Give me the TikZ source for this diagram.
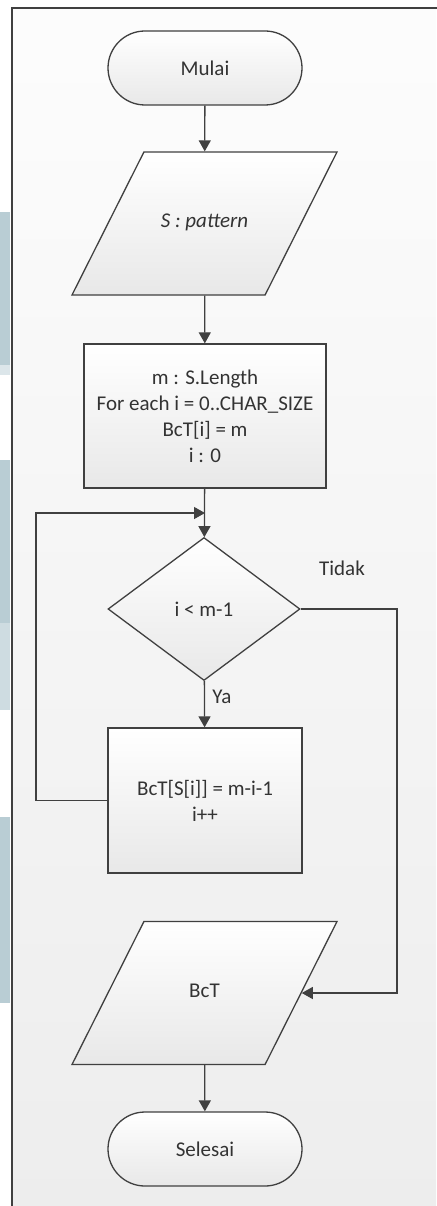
\documentclass[tikz,border=0pt]{standalone}
\usepackage{fontspec}
\setmainfont{Carlito}
\usetikzlibrary{shapes.geometric,shapes.misc,arrows.meta}
\definecolor{stripblue}{RGB}{185,205,212}
\definecolor{linegray}{RGB}{64,64,64}

\begin{document}
\begin{tikzpicture}[x=1pt,y=-1pt,
    font=\fontsize{21}{26}\selectfont, text=black!80,
    shape fill/.style={draw=linegray, line width=1.3pt, top color=white, bottom color=black!9},
    term/.style={shape fill, rounded rectangle, minimum width=194pt, minimum height=74pt, inner sep=0pt},
    io/.style={shape fill, trapezium, trapezium left angle=63.3, trapezium right angle=116.7,
        trapezium stretches body, text height=14pt, text depth=5pt, inner xsep=0pt, inner ysep=62pt,
        minimum width=265pt},
    proc/.style={shape fill, rectangle, align=center, inner sep=0pt},
    cond/.style={shape fill, diamond, minimum width=192pt, minimum height=143pt, inner sep=0pt},
    flow/.style={draw=linegray, line width=1.3pt, -{Triangle[length=11pt,width=12pt]}}]
    \useasboundingbox (0,0) rectangle (436,1206);

    \fill[stripblue] (0,212) rectangle (10,365);
    \fill[stripblue!50!white] (0,365) rectangle (10,375);
    \fill[stripblue] (0,460) rectangle (10,623);
    \fill[stripblue!70!white] (0,623) rectangle (10,710);
    \fill[stripblue] (0,817) rectangle (10,1003);
    \fill[top color=black!1, bottom color=black!7] (12,8) rectangle (436,1206);
    \draw[linegray, line width=1.5pt] (12,1210) -- (12,8) -- (440,8);

    \node[term] (start) at (205,68) {Mulai};
    \node[io] (in) at (204.5,223.5) {\itshape S : pattern};
    \node[proc, minimum width=242pt, minimum height=144pt] (init) at (205,416)
        {m : S.Length\\For each i = 0..CHAR\_SIZE\\BcT[i] = m\\i : 0};
    \node[cond] (cond) at (204,609) {i < m-1};
    \node[proc, minimum width=194pt, minimum height=145pt] (body) at (205,800.5)
        {BcT[S[i]] = m-i-1\\i++};
    \node[io] (bct) at (204.5,993) {BcT};
    \node[term] (stop) at (205,1149) {Selesai};

    \node (tidak) at (342,568) {Tidak};
    \coordinate (join) at (205,513);
    \coordinate (back) at (36,513);
    \coordinate (side) at (397,609);

    \draw[flow] (start) -- (in);
    \draw[flow] (in) -- (init);
    \draw[flow] (init) -- (cond);
    \draw[flow] (cond) -- node[pos=0.35, right=4pt] {Ya} (body);
    \draw[flow] (body.west) -| (back) -- (join);
    \draw[flow] (cond.east) -- (side) |- (bct.east);
    \draw[flow] (bct) -- (stop);
\end{tikzpicture}
\end{document}
